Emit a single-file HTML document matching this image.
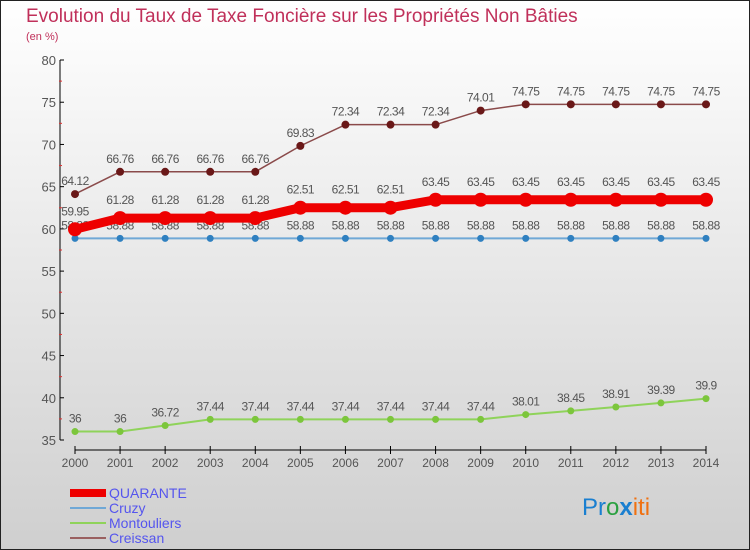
<!DOCTYPE html>
<html><head><meta charset="utf-8"><style>
body{margin:0}
#wrap{width:750px;height:550px;position:relative;overflow:hidden;font-family:"Liberation Sans",sans-serif}
svg text{font-family:"Liberation Sans",sans-serif}
</style></head><body>
<div id="wrap">
<svg id="c" width="750" height="550">
<defs><linearGradient id="bg" x1="0" y1="0" x2="0" y2="1"><stop offset="0" stop-color="#ffffff"/><stop offset="1" stop-color="#cfcfcf"/></linearGradient></defs>
<rect x="0.5" y="0.5" width="749" height="549" fill="url(#bg)" stroke="#222"/>
<text x="26" y="22" font-size="19" fill="#c0305a">Evolution du Taux de Taxe Foncière sur les Propriétés Non Bâties</text>
<text x="26" y="40" font-size="11" fill="#c0305a">(en %)</text>
<g id="axes"></g><g id="series"></g>
<g>
<rect x="70" y="489" width="36" height="8" fill="#ee0000"/>
<text x="109" y="498" font-size="14" fill="#5555ee">QUARANTE</text>
<line x1="70" y1="508" x2="106" y2="508" stroke="#6fa8d6" stroke-width="2"/>
<text x="109" y="513" font-size="14" fill="#5555ee">Cruzy</text>
<line x1="70" y1="523" x2="106" y2="523" stroke="#8fd35a" stroke-width="2"/>
<text x="109" y="528" font-size="14" fill="#5555ee">Montouliers</text>
<line x1="70" y1="538" x2="106" y2="538" stroke="#9a6060" stroke-width="2"/>
<text x="109" y="543" font-size="14" fill="#5555ee">Creissan</text>
</g>
<text x="582" y="515" font-size="24"><tspan fill="#1a7fd0">Pr</tspan><tspan fill="#2aa040">o</tspan><tspan fill="#1a7fd0" font-weight="bold">x</tspan><tspan fill="#f07010">iti</tspan></text>
</svg></div>
<script>
const years=[2000,2001,2002,2003,2004,2005,2006,2007,2008,2009,2010,2011,2012,2013,2014];
const yTicks=[35,40,45,50,55,60,65,70,75,80];
const quarante=[59.95,61.28,61.28,61.28,61.28,62.51,62.51,62.51,63.45,63.45,63.45,63.45,63.45,63.45,63.45];
const cruzy=[58.88,58.88,58.88,58.88,58.88,58.88,58.88,58.88,58.88,58.88,58.88,58.88,58.88,58.88,58.88];
const montouliers=[36,36,36.72,37.44,37.44,37.44,37.44,37.44,37.44,37.44,38.01,38.45,38.91,39.39,39.9];
const creissan=[64.12,66.76,66.76,66.76,66.76,69.83,72.34,72.34,72.34,74.01,74.75,74.75,74.75,74.75,74.75];
const NS="http://www.w3.org/2000/svg";
const x=i=>75+i*(706-75)/(years.length-1);
const y=v=>440-(v-35)*(380/45);
function mk(t,a,p){const e=document.createElementNS(NS,t);for(const k in a)e.setAttribute(k,a[k]);p.appendChild(e);return e;}
const ax=document.getElementById('axes');
const yl=mk('line',{x1:60,y1:60,x2:60,y2:440,stroke:'#000','stroke-width':1},ax);


yTicks.forEach(v=>{
 mk('line',{x1:60,y1:y(v),x2:64,y2:y(v),stroke:'#000'},ax);
 if(v<80)mk('line',{x1:59,y1:y(v+2.5),x2:62,y2:y(v+2.5),stroke:'#e03030'},ax);
 const t=mk('text',{x:56,y:y(v)+5,'font-size':13,'text-anchor':'end',fill:'#555'},ax);t.textContent=v;
 
 
});
const xl=mk('line',{x1:75,y1:450,x2:706,y2:450,stroke:'#000'},ax);


years.forEach((yr,i)=>{
 mk('line',{x1:x(i),y1:446,x2:x(i),y2:454,stroke:'#000'},ax);
 const t=mk('text',{x:x(i),y:467,'font-size':12,'text-anchor':'middle',fill:'#555'},ax);t.textContent=yr;
 
 
});
const sg=document.getElementById('series');
function series(name,vals,col,dot,w,r,labOff){
 const g=mk('g',{},sg);
 
 
 mk('polyline',{points:vals.map((v,i)=>x(i)+','+y(v)).join(' '),fill:'none',stroke:col,'stroke-width':w,'stroke-linejoin':'round'},g);
 vals.forEach((v,i)=>{
  const c=mk('circle',{cx:x(i),cy:y(v),r:r,fill:dot},g);
  
  
  const t=mk('text',{x:x(i),y:y(v)+labOff,'font-size':12,'text-anchor':'middle',fill:'#555','letter-spacing':'-0.5'},g);
  t.textContent=String(v);
  
  
 });
}
series('montouliers',montouliers,'#8fd35a','#7cc63c',2,3.5,-9);
series('cruzy',cruzy,'#6fa8d6','#2f80c0',2,3.5,-9);
series('creissan',creissan,'#8a4a4a','#6a1818',1.5,4,-9);
series('quarante',quarante,'#ee0000','#ee0000',9,7,-14);
</script>
</body></html>
